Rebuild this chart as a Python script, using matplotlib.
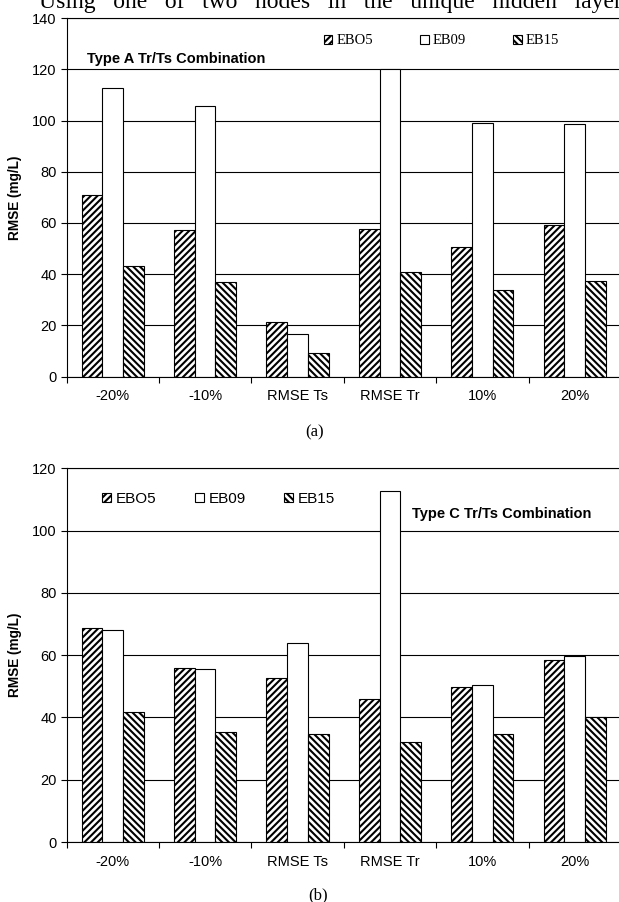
import matplotlib
matplotlib.use("Agg")
import matplotlib.pyplot as plt
import numpy as np

# categories and series values (RMSE, mg/L)
categories = ["-20%", "-10%", "RMSE Ts", "RMSE Tr", "10%", "20%"]
series_names = ["EBO5", "EB09", "EB15"]

type_a_ebo5 = [70.8, 57.4, 21.2, 57.8, 50.8, 59.2]
type_a_eb09 = [112.8, 105.8, 16.5, 120.0, 99.2, 98.8]
type_a_eb15 = [43.2, 36.9, 9.2, 40.8, 33.8, 37.4]

type_c_ebo5 = [68.6, 56.0, 52.5, 46.0, 49.6, 58.3]
type_c_eb09 = [67.9, 55.4, 63.9, 112.8, 50.3, 59.6]
type_c_eb15 = [41.7, 35.2, 34.8, 32.0, 34.7, 40.0]

plt.rcParams["font.family"] = ["Liberation Sans", "DejaVu Sans"]
plt.rcParams["hatch.linewidth"] = 1.5

W, H = 619, 902
fig = plt.figure(figsize=(W / 100, H / 100), dpi=100)

hatches = ["/////", None, "\\\\\\\\\\"]


def px(x, y):
    """pixel position (from top-left) -> figure fraction"""
    return x / W, 1 - y / H


def draw_panel(ax, values, ymax, title, title_xy, legend_xy, legend_font, colspace):
    x = np.arange(len(categories))
    bw = 0.225
    for i, vals in enumerate(values):
        ax.bar(x + (i - 1) * bw, vals, width=bw, color="white",
               edgecolor="black", linewidth=0.8, hatch=hatches[i],
               label=series_names[i], zorder=2)

    ax.set_xlim(-0.5, len(categories) - 0.5)
    ax.set_ylim(0, ymax)
    ax.set_yticks(np.arange(0, ymax + 1, 20))
    ax.yaxis.grid(True, color="black", linewidth=0.8)
    ax.set_axisbelow(True)

    ax.set_xticks(np.arange(-0.5, len(categories), 1.0))
    ax.set_xticklabels([])
    ax.set_xticks(x, minor=True)
    ax.set_xticklabels(categories, minor=True, fontsize=10.5)
    ax.tick_params(axis="x", which="major", direction="out", length=4, width=0.8)
    ax.tick_params(axis="x", which="minor", length=0, pad=9)
    ax.tick_params(axis="y", direction="out", length=4, width=0.8,
                   labelsize=10.5, pad=3)

    ax.spines["right"].set_visible(False)
    for s in ["left", "bottom", "top"]:
        ax.spines[s].set_linewidth(0.8)

    ax.set_ylabel("RMSE (mg/L)", fontsize=9.8, fontweight="bold")
    ax.yaxis.set_label_coords(-0.081, 0.5)

    tx, ty = px(*title_xy)
    fig.text(tx, ty, title, fontsize=10.5, fontweight="bold", ha="left", va="center")

    lx, ly = px(*legend_xy)
    ax.legend(loc="center left", bbox_to_anchor=(lx, ly),
              bbox_transform=fig.transFigure, ncol=3, frameon=False,
              prop=legend_font, handlelength=0.6, handleheight=0.6,
              handletextpad=0.3, columnspacing=colspace, borderpad=0,
              borderaxespad=0)


ax_a = fig.add_axes([66.5 / W, 1 - 376.5 / H, 554.4 / W, 358.2 / H])
draw_panel(ax_a, [type_a_ebo5, type_a_eb09, type_a_eb15], 140,
           "Type A Tr/Ts Combination", (87, 59), (323.5, 41),
           {"family": "Liberation Serif", "size": 10.5}, 3.2)

ax_c = fig.add_axes([66.5 / W, 1 - 842 / H, 554.4 / W, 373.8 / H])
draw_panel(ax_c, [type_c_ebo5, type_c_eb09, type_c_eb15], 120,
           "Type C Tr/Ts Combination", (412.5, 514), (102, 499),
           {"family": "Liberation Sans", "size": 11}, 2.5)

# captions
fig.text(*px(315, 432), "(a)", family="Liberation Serif", fontsize=12,
         ha="center", va="center")
fig.text(*px(318, 895), "(b)", family="Liberation Serif", fontsize=12,
         ha="center", va="center")

# leftover line of body text cut at the top of the page
fig.text(*px(39, 8), "Using   one   of   two   nodes   in   the   unique   hidden   layer",
         family="Liberation Serif", fontsize=17, ha="left", va="baseline")

fig.savefig("out.png", dpi=100)
